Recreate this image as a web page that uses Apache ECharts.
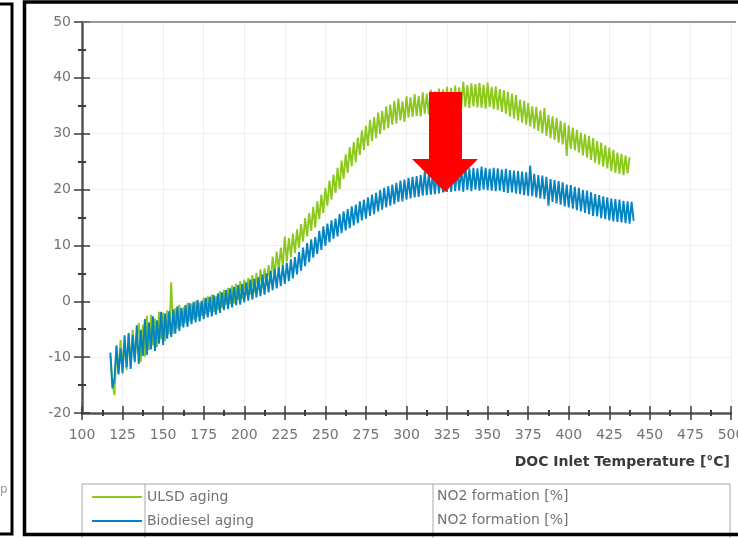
<!DOCTYPE html>
<html>
<head>
<meta charset="utf-8">
<script src="https://cdn.jsdelivr.net/npm/echarts@6/dist/echarts.min.js"></script>
<style>
  html, body { margin: 0; padding: 0; background: #ffffff; }
  #chart { width: 738px; height: 538px; }
</style>
</head>
<body>
<div id="chart"></div>
<script>
// DOC inlet temperature samples [°C], 1.25 °C apart
const tempC = [
  117.5, 118.75, 120, 121.25, 122.5, 123.75, 125, 126.25, 127.5, 128.75,
  130, 131.25, 132.5, 133.75, 135, 136.25, 137.5, 138.75, 140, 141.25,
  142.5, 143.75, 145, 146.25, 147.5, 148.75, 150, 151.25, 152.5, 153.75,
  155, 156.25, 157.5, 158.75, 160, 161.25, 162.5, 163.75, 165, 166.25,
  167.5, 168.75, 170, 171.25, 172.5, 173.75, 175, 176.25, 177.5, 178.75,
  180, 181.25, 182.5, 183.75, 185, 186.25, 187.5, 188.75, 190, 191.25,
  192.5, 193.75, 195, 196.25, 197.5, 198.75, 200, 201.25, 202.5, 203.75,
  205, 206.25, 207.5, 208.75, 210, 211.25, 212.5, 213.75, 215, 216.25,
  217.5, 218.75, 220, 221.25, 222.5, 223.75, 225, 226.25, 227.5, 228.75,
  230, 231.25, 232.5, 233.75, 235, 236.25, 237.5, 238.75, 240, 241.25,
  242.5, 243.75, 245, 246.25, 247.5, 248.75, 250, 251.25, 252.5, 253.75,
  255, 256.25, 257.5, 258.75, 260, 261.25, 262.5, 263.75, 265, 266.25,
  267.5, 268.75, 270, 271.25, 272.5, 273.75, 275, 276.25, 277.5, 278.75,
  280, 281.25, 282.5, 283.75, 285, 286.25, 287.5, 288.75, 290, 291.25,
  292.5, 293.75, 295, 296.25, 297.5, 298.75, 300, 301.25, 302.5, 303.75,
  305, 306.25, 307.5, 308.75, 310, 311.25, 312.5, 313.75, 315, 316.25,
  317.5, 318.75, 320, 321.25, 322.5, 323.75, 325, 326.25, 327.5, 328.75,
  330, 331.25, 332.5, 333.75, 335, 336.25, 337.5, 338.75, 340, 341.25,
  342.5, 343.75, 345, 346.25, 347.5, 348.75, 350, 351.25, 352.5, 353.75,
  355, 356.25, 357.5, 358.75, 360, 361.25, 362.5, 363.75, 365, 366.25,
  367.5, 368.75, 370, 371.25, 372.5, 373.75, 375, 376.25, 377.5, 378.75,
  380, 381.25, 382.5, 383.75, 385, 386.25, 387.5, 388.75, 390, 391.25,
  392.5, 393.75, 395, 396.25, 397.5, 398.75, 400, 401.25, 402.5, 403.75,
  405, 406.25, 407.5, 408.75, 410, 411.25, 412.5, 413.75, 415, 416.25,
  417.5, 418.75, 420, 421.25, 422.5, 423.75, 425, 426.25, 427.5, 428.75,
  430, 431.25, 432.5, 433.75, 435, 436.25, 437.5, 438.75, 440
];

// NO2 formation [%] after ULSD aging (117.5 … 437.5 °C)
const ulsdAging = [
  -9.8, -14.6, -16.8, -8.2, -12.9, -6.9, -11.8, -7.4, -12.3, -5.9,
  -11.6, -5.1, -10.4, -6.3, -3.9, -10.8, -4.2, -9.9, -2.6, -8.7,
  -2.4, -7.9, -3.1, -8.2, -1.9, -6.8, -2.0, -7.1, -1.6, -5.9,
  3.4, -5.8, -1.2, -4.9, -0.6, -4.4, -1.1, -3.9, -0.3, -3.6,
  -0.4, -3.3, 0.1, -2.8, -0.2, -2.6, 0.6, -2.4, 0.9, -1.9,
  1.2, -1.9, 0.9, -1.5, 1.8, -1.2, 2.1, -0.6, 2.4, -0.5,
  2.8, -0.4, 3.1, 0.2, 3.6, 0.4, 3.9, 1.1, 4.2, 1.2,
  4.7, 1.6, 5.1, 2.0, 5.7, 2.3, 5.9, 2.8, 6.5, 3.2,
  8.0, 4.6, 8.9, 5.5, 9.6, 6.3, 11.6, 7.1, 11.3, 7.9,
  12.1, 8.6, 12.9, 9.6, 13.8, 10.7, 14.9, 11.6, 15.8, 12.6,
  16.9, 13.2, 17.9, 14.7, 19.1, 15.8, 20.3, 17.1, 21.6, 18.2,
  22.7, 19.4, 23.9, 20.1, 25.2, 21.9, 26.3, 23.0, 27.6, 24.2,
  28.5, 24.9, 29.3, 26.2, 30.6, 27.1, 31.4, 27.8, 32.5, 28.7,
  33.0, 29.2, 33.8, 29.9, 34.1, 30.7, 34.9, 31.0, 35.2, 31.6,
  35.9, 31.8, 36.3, 32.4, 35.8, 32.1, 36.7, 32.9, 36.5, 33.0,
  37.1, 33.2, 36.8, 33.1, 37.4, 33.6, 37.2, 33.5, 37.9, 33.8,
  37.6, 33.9, 38.1, 34.2, 37.9, 33.7, 38.4, 34.3, 38.2, 34.1,
  38.6, 34.5, 38.3, 34.4, 39.3, 34.8, 38.7, 34.6, 39.0, 34.9,
  38.9, 34.7, 39.1, 34.6, 38.8, 34.5, 39.2, 34.8, 38.4, 34.4,
  38.5, 34.2, 38.0, 33.9, 37.8, 33.6, 37.5, 33.1, 37.2, 32.7,
  36.9, 32.4, 36.1, 32.0, 35.9, 31.6, 35.5, 31.3, 34.9, 30.9,
  34.8, 30.5, 34.2, 30.1, 34.6, 29.6, 33.4, 29.2, 33.1, 28.9,
  32.8, 28.4, 32.3, 28.1, 32.0, 26.0, 31.5, 27.3, 31.1, 27.0,
  30.7, 26.6, 30.2, 26.1, 29.9, 25.7, 29.6, 25.3, 29.2, 24.8,
  28.7, 24.5, 28.4, 24.1, 27.9, 23.8, 27.5, 23.3, 27.1, 23.0,
  26.6, 22.8, 26.4, 22.6, 26.1, 22.9, 25.8
];

// NO2 formation [%] after biodiesel aging (117.5 … 440 °C)
const biodieselAging = [
  -9.2, -15.6, -13.8, -7.9, -13.1, -8.4, -12.9, -6.1, -11.8, -5.7,
  -12.1, -6.0, -10.9, -4.3, -11.2, -5.1, -9.8, -3.2, -9.6, -3.8,
  -8.6, -2.7, -8.9, -3.4, -7.6, -1.9, -7.8, -2.2, -6.7, -1.8,
  -6.4, -1.5, -5.8, -0.9, -5.3, -1.2, -4.7, -0.7, -4.6, -0.3,
  -4.1, -0.1, -3.8, 0.2, -3.6, 0.1, -3.2, 0.6, -2.9, 0.8,
  -2.7, 1.1, -2.4, 1.4, -2.1, 1.6, -1.6, 2.0, -1.4, 2.3,
  -1.1, 2.6, -0.7, 2.9, -0.6, 3.1, -0.2, 3.4, 0.1, 3.9,
  0.3, 4.0, 0.7, 4.3, 0.9, 4.8, 1.2, 5.0, 1.6, 5.4,
  2.0, 5.8, 2.3, 6.1, 2.7, 6.5, 3.1, 6.9, 3.6, 7.5,
  4.1, 7.9, 4.8, 8.8, 5.5, 9.6, 6.3, 10.4, 7.0, 11.1,
  7.8, 11.5, 8.5, 12.6, 9.2, 13.4, 9.9, 13.9, 10.6, 14.5,
  11.2, 14.8, 11.6, 15.6, 12.2, 16.1, 12.7, 16.5, 13.1, 17.0,
  13.6, 17.3, 14.0, 17.9, 14.5, 18.2, 14.8, 18.6, 15.3, 19.1,
  15.6, 19.4, 16.1, 19.9, 16.4, 20.3, 16.8, 20.6, 17.1, 20.9,
  17.4, 21.2, 17.8, 21.6, 17.9, 21.8, 18.2, 22.1, 18.4, 22.3,
  18.6, 22.4, 18.7, 22.6, 18.9, 23.2, 19.0, 22.8, 19.1, 23.0,
  19.2, 23.1, 19.3, 23.3, 19.5, 23.2, 19.6, 23.9, 19.6, 23.5,
  19.7, 23.6, 19.8, 23.7, 19.6, 24.6, 19.9, 23.8, 19.7, 23.9,
  20.0, 23.8, 19.8, 24.1, 20.0, 23.9, 19.9, 23.7, 19.8, 23.9,
  19.7, 23.8, 19.8, 23.6, 19.6, 23.7, 19.4, 23.5, 19.5, 23.4,
  19.3, 23.3, 19.2, 23.2, 19.0, 23.1, 18.9, 24.3, 18.8, 22.8,
  18.6, 22.6, 18.4, 22.5, 18.3, 22.3, 17.1, 21.9, 17.8, 21.7,
  17.5, 21.5, 17.3, 21.3, 17.0, 20.9, 16.8, 20.8, 16.6, 20.5,
  16.3, 20.3, 16.1, 19.9, 15.8, 19.8, 15.6, 19.5, 15.3, 19.2,
  15.2, 19.0, 14.9, 18.8, 14.7, 18.6, 14.5, 18.4, 14.3, 18.3,
  14.2, 18.2, 14.1, 18.0, 14.0, 17.9, 13.9, 17.8, 14.4
];

const seriesNames = ['ULSD aging', 'Biodiesel aging'];
const seriesUnits = ['NO2 formation [%]', 'NO2 formation [%]'];
const xAxisTitle = 'DOC Inlet Temperature [°C]';

const FONT = 'DejaVu Sans';
const LABEL_GRAY = '#737373';

function pairs(values) {
  return values.map((v, i) => [tempC[i], v]);
}

const chart = echarts.init(document.getElementById('chart'), null, { renderer: 'canvas' });

const tickStyle = { color: '#3c3c3c', width: 1.5 };
const minorStyle = { color: '#3c3c3c', width: 2 };

const xBase = {
  type: 'value', min: 100, max: 500, interval: 25,
  gridIndex: 0, position: 'bottom'
};
const yBase = {
  type: 'value', min: -20, max: 50, interval: 10,
  gridIndex: 0, position: 'left'
};

chart.setOption({
  animation: false,
  backgroundColor: '#ffffff',
  grid: { left: 82, top: 22, right: 7, bottom: 125, containLabel: false, outerBoundsMode: 'none' },
  xAxis: [
    Object.assign({}, xBase, {
      axisLine: { show: true, onZero: false, lineStyle: { color: '#555555', width: 2.5 } },
      axisTick: { show: true, length: 7, lineStyle: tickStyle },
      minorTick: { show: true, splitNumber: 2, length: 3, lineStyle: minorStyle },
      splitLine: { show: true, lineStyle: { color: '#eeeeee', width: 1 } },
      axisLabel: { color: LABEL_GRAY, fontSize: 14, fontFamily: FONT, margin: 15 }
    }),
    Object.assign({}, xBase, {
      axisLine: { show: false, onZero: false },
      axisTick: { show: true, inside: true, length: 7, lineStyle: tickStyle },
      minorTick: { show: true, splitNumber: 2, length: 3, lineStyle: minorStyle },
      splitLine: { show: false },
      axisLabel: { show: false }
    })
  ],
  yAxis: [
    Object.assign({}, yBase, {
      axisLine: { show: true, onZero: false, lineStyle: { color: '#555555', width: 2.5 } },
      axisTick: { show: true, length: 8, lineStyle: tickStyle },
      minorTick: { show: true, splitNumber: 2, length: 4, lineStyle: minorStyle },
      splitLine: { show: true, lineStyle: { color: '#eeeeee', width: 1 } },
      axisLabel: { color: LABEL_GRAY, fontSize: 14, fontFamily: FONT, margin: 11 }
    }),
    Object.assign({}, yBase, {
      axisLine: { show: false, onZero: false },
      axisTick: { show: true, inside: true, length: 8, lineStyle: tickStyle },
      minorTick: { show: true, splitNumber: 2, length: 4, lineStyle: minorStyle },
      splitLine: { show: false },
      axisLabel: { show: false }
    })
  ],
  legend: {
    orient: 'vertical',
    left: 92, top: 489,
    itemWidth: 50, itemHeight: 2,
    itemGap: 8,
    icon: 'rect',
    padding: 0,
    textStyle: { color: LABEL_GRAY, fontSize: 14, fontFamily: FONT, lineHeight: 16 },
    data: seriesNames
  },
  series: [
    {
      name: seriesNames[0], type: 'line', xAxisIndex: 0, yAxisIndex: 0,
      data: pairs(ulsdAging),
      showSymbol: false, symbol: 'none',
      color: '#8cc81e',
      lineStyle: { color: '#8cc81e', width: 1.9 },
      z: 2
    },
    {
      name: seriesNames[1], type: 'line', xAxisIndex: 0, yAxisIndex: 0,
      data: pairs(biodieselAging),
      showSymbol: false, symbol: 'none',
      color: '#0584c2',
      lineStyle: { color: '#0584c2', width: 1.9 },
      z: 3
    }
  ],
  graphic: [
    // top edge of the plot area
    { type: 'line', shape: { x1: 82, y1: 22, x2: 736, y2: 22 },
      style: { stroke: '#7a7a7a', lineWidth: 1.5 }, z: 5 },
    // axis title
    { type: 'text', right: 8, top: 455, z: 5,
      style: { text: xAxisTitle, font: 'bold 14px "DejaVu Sans"', fill: '#3a3a3a' } },
    // legend table
    { type: 'rect', shape: { x: 82, y: 484, width: 648, height: 70 },
      style: { fill: 'none', stroke: '#a9a9a9', lineWidth: 1 }, z: 1 },
    { type: 'line', shape: { x1: 145, y1: 484, x2: 145, y2: 540 },
      style: { stroke: '#a9a9a9', lineWidth: 1 }, z: 1 },
    { type: 'line', shape: { x1: 433, y1: 484, x2: 433, y2: 540 },
      style: { stroke: '#a9a9a9', lineWidth: 1 }, z: 1 },
    { type: 'text', left: 437, top: 489, z: 5,
      style: { text: seriesUnits[0], font: '14px "DejaVu Sans"', fill: LABEL_GRAY } },
    { type: 'text', left: 437, top: 513, z: 5,
      style: { text: seriesUnits[1], font: '14px "DejaVu Sans"', fill: LABEL_GRAY } },
    // red arrow
    { type: 'polygon', z: 10,
      shape: { points: [[429, 92], [462, 92], [462, 159], [478, 159], [445, 192], [412, 159], [429, 159]] },
      style: { fill: '#ff0000' } },
    // panel frames
    { type: 'rect', shape: { x: -10, y: 4, width: 22, height: 530 },
      style: { fill: 'none', stroke: '#000000', lineWidth: 3 }, z: 20 },
    { type: 'text', left: 0, top: 484, z: 20,
      style: { text: 'p', font: '12px "DejaVu Sans"', fill: '#9a9a9a' } },
    { type: 'rect', shape: { x: 24.5, y: 2, width: 730, height: 532.5 },
      style: { fill: 'none', stroke: '#000000', lineWidth: 3.5 }, z: 20 }
  ]
});
</script>
</body>
</html>
